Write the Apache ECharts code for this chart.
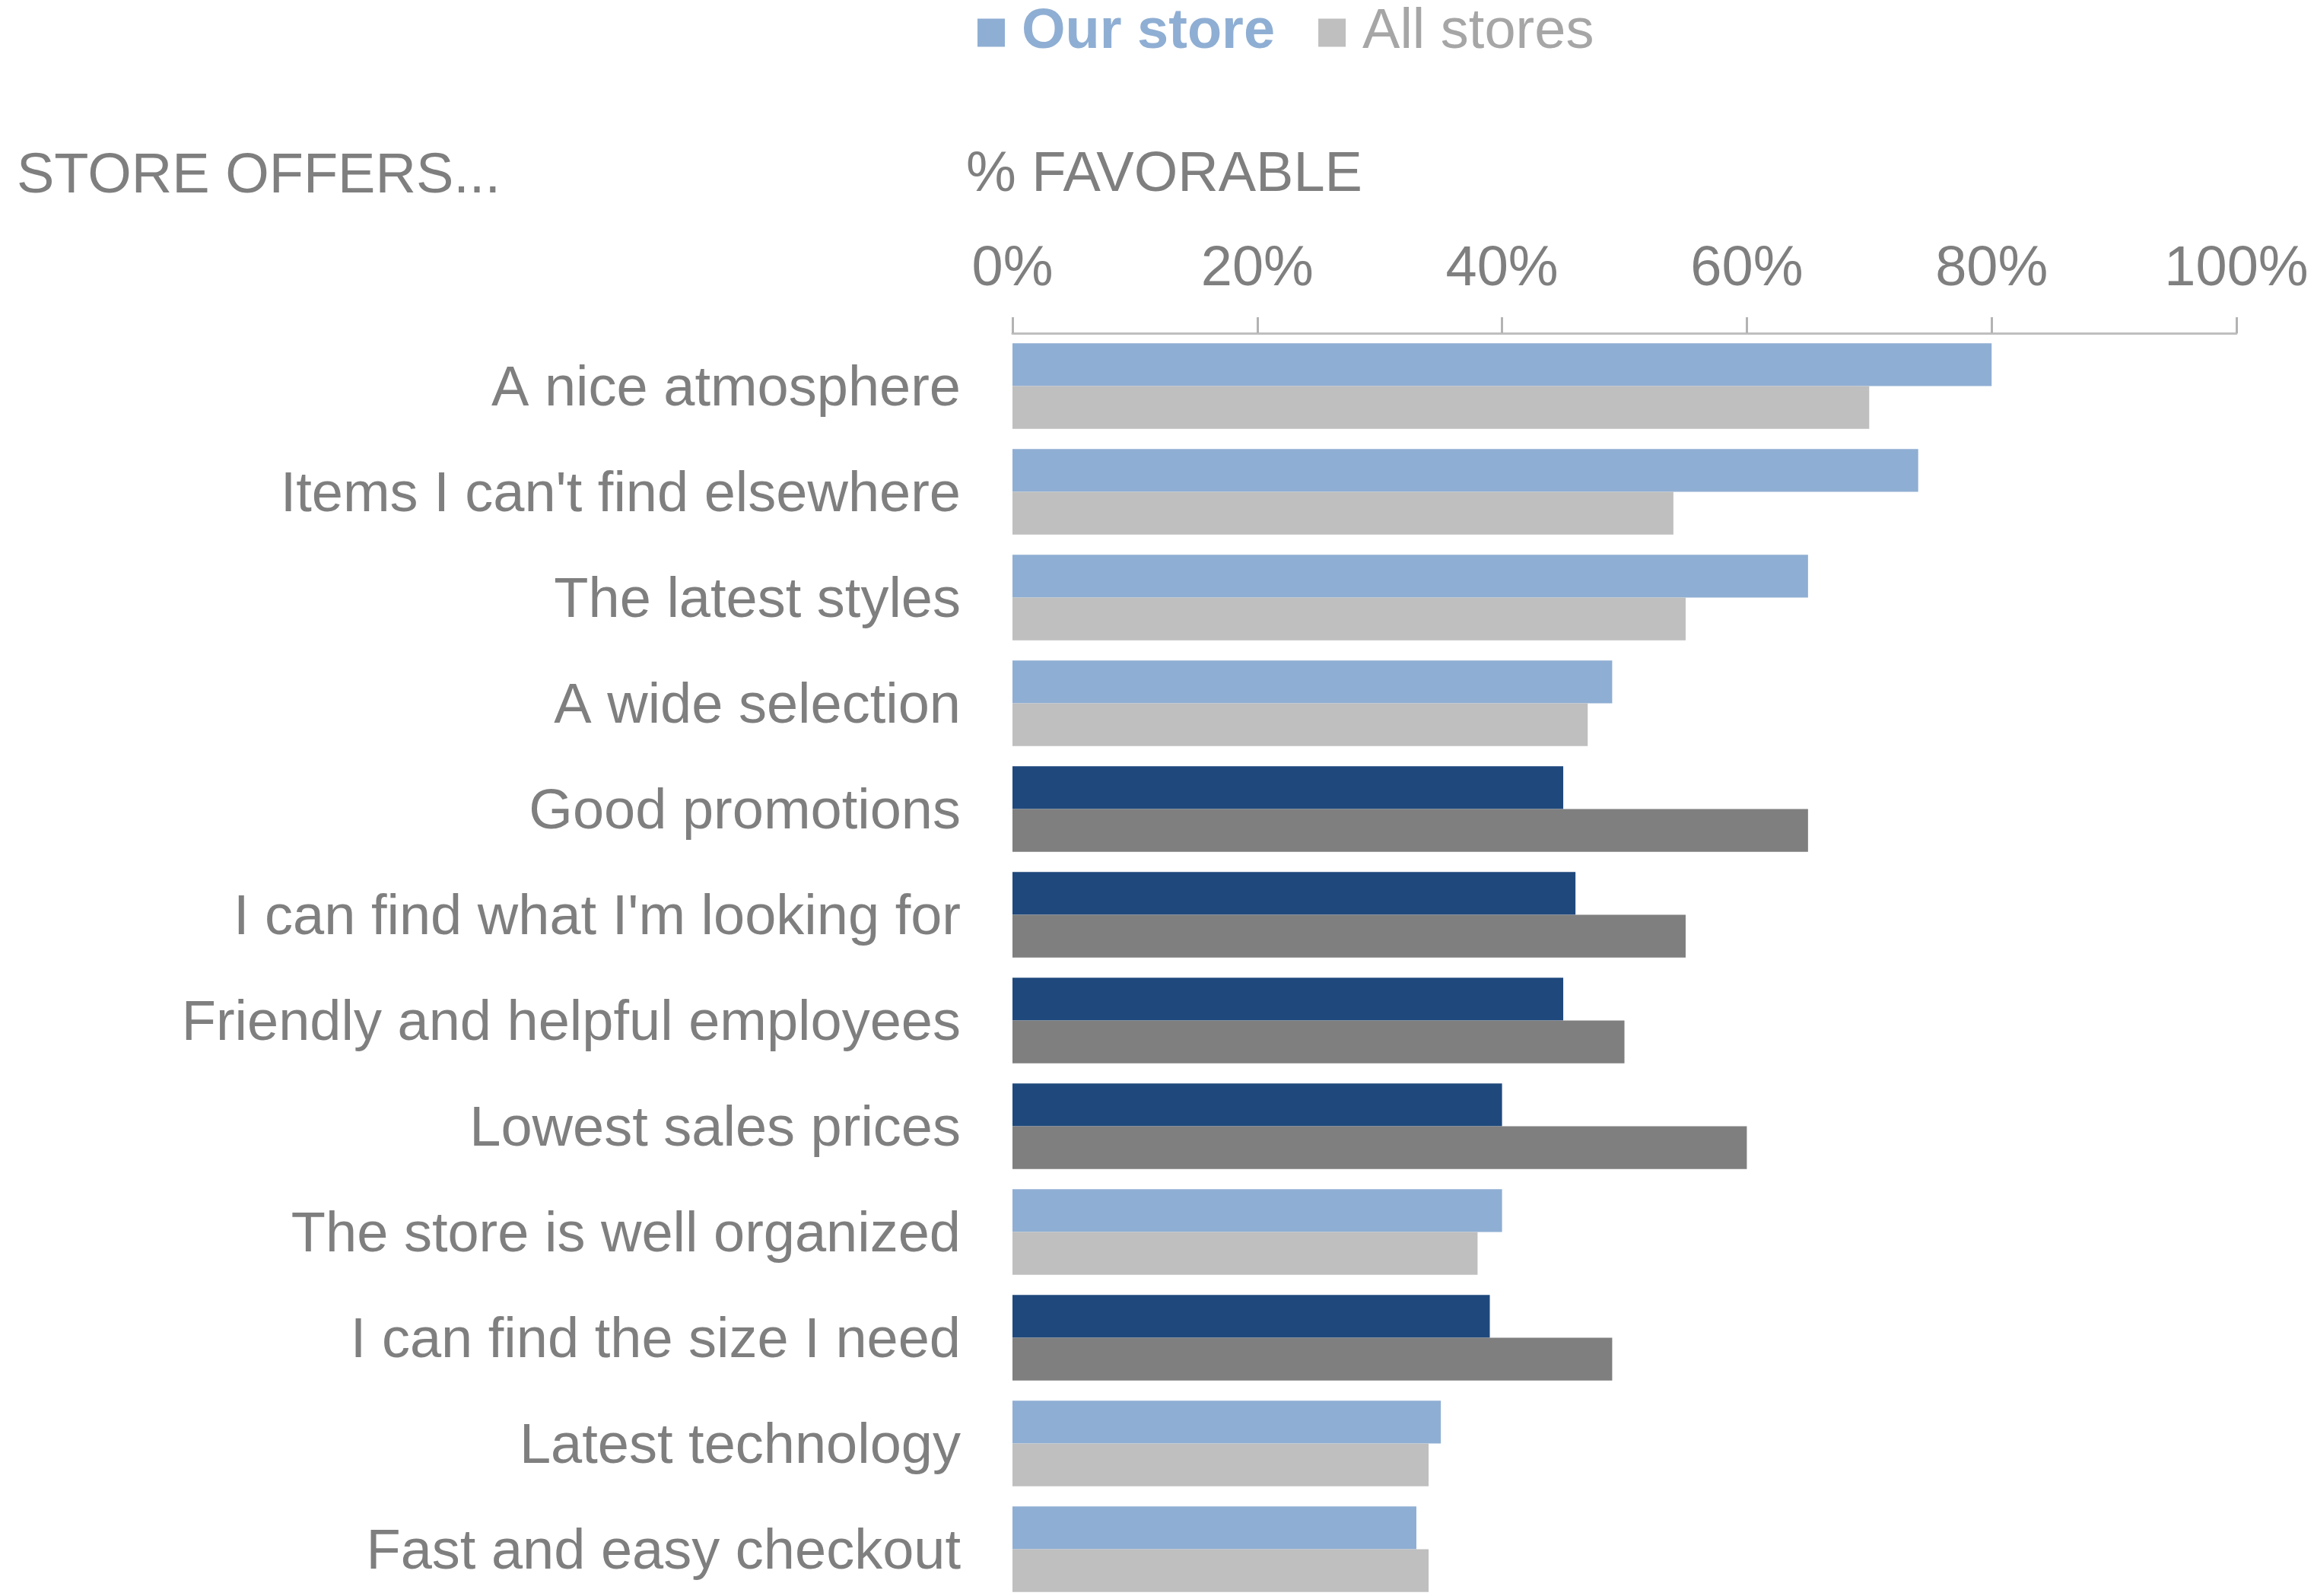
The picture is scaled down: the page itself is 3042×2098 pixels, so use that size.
<!DOCTYPE html>
<html>
<head>
<meta charset="utf-8">
<title>Store offers – % favorable</title>
<script src="https://cdn.jsdelivr.net/npm/echarts@6/dist/echarts.min.js"></script>
<style>
  html, body { margin: 0; padding: 0; background: #ffffff; }
  #chart { width: 3042px; height: 2098px; }
</style>
</head>
<body>
<div id="chart"></div>
<script>
// Survey items, top to bottom
const categories = [
  'A nice atmosphere',
  "Items I can't find elsewhere",
  'The latest styles',
  'A wide selection',
  'Good promotions',
  "I can find what I'm looking for",
  'Friendly and helpful employees',
  'Lowest sales prices',
  'The store is well organized',
  'I can find the size I need',
  'Latest technology',
  'Fast and easy checkout'
];

// % favorable
const ourStore  = [80, 74, 65, 49, 45, 46, 45, 40, 40, 39, 35, 33];
const allStores = [70, 54, 55, 47, 65, 55, 50, 60, 38, 49, 34, 34];

// Items drawn in the darker emphasis colours
const flaggedItems = [
  'Good promotions',
  "I can find what I'm looking for",
  'Friendly and helpful employees',
  'Lowest sales prices',
  'I can find the size I need'
];

const xTicks = [0, 20, 40, 60, 80, 100];

const FONT = '"Liberation Sans", Arial, Helvetica, sans-serif';
const TEXT_GREY = '#7f7f7f';
const COLORS = {
  our: '#8faed3', ourDark: '#1f497d',
  all: '#bfbfbf', allDark: '#7f7f7f'
};

function seriesData(values, baseColor, darkColor) {
  return values.map((v, i) => {
    const flagged = flaggedItems.indexOf(categories[i]) !== -1;
    return { value: v, itemStyle: { color: flagged ? darkColor : baseColor } };
  });
}

const chart = echarts.init(document.getElementById('chart'), null, { renderer: 'canvas' });

chart.setOption({
  backgroundColor: '#ffffff',
  animation: false,
  legend: {
    left: 1285,
    top: 6,
    padding: 0,
    itemGap: 57,
    itemWidth: 36,
    itemHeight: 37,
    icon: 'rect',
    data: [
      { name: 'Our store', textStyle: { color: COLORS.our, fontWeight: 'bold' } },
      { name: 'All stores', textStyle: { color: '#a6a6a6', fontWeight: 'normal' } }
    ],
    textStyle: { fontFamily: FONT, fontSize: 74, lineHeight: 74, padding: [0, 0, 0, 17] }
  },
  graphic: [
    {
      type: 'text', x: 22, y: 233,
      style: { text: 'STORE OFFERS...', font: '74px ' + FONT, fill: TEXT_GREY, verticalAlign: 'middle', align: 'left' }
    },
    {
      type: 'text', x: 1270, y: 231,
      style: { text: '% FAVORABLE', font: '74px ' + FONT, fill: TEXT_GREY, verticalAlign: 'middle', align: 'left' }
    }
  ],
  grid: {
    left: 1331, top: 438, width: 1609, height: 1668,
    containLabel: false, outerBoundsMode: 'none'
  },
  xAxis: {
    type: 'value',
    position: 'top',
    min: xTicks[0],
    max: xTicks[xTicks.length - 1],
    interval: xTicks[1] - xTicks[0],
    axisLine: { show: true, lineStyle: { color: '#bfbfbf', width: 3 } },
    axisTick: { show: true, length: 21, lineStyle: { color: '#b3b3b3', width: 3 } },
    splitLine: { show: false },
    axisLabel: {
      formatter: '{value}%',
      fontFamily: FONT, fontSize: 74, color: TEXT_GREY, margin: 46
    }
  },
  yAxis: {
    type: 'category',
    inverse: true,
    data: categories,
    axisLine: { show: false },
    axisTick: { show: false },
    axisLabel: {
      fontFamily: FONT, fontSize: 74, color: TEXT_GREY, margin: 68,
      verticalAlign: 'top', lineHeight: 10
    }
  },
  series: [
    {
      name: 'Our store', type: 'bar',
      barGap: '0%', barCategoryGap: '19%',
      itemStyle: { color: COLORS.our },
      data: seriesData(ourStore, COLORS.our, COLORS.ourDark)
    },
    {
      name: 'All stores', type: 'bar',
      barGap: '0%', barCategoryGap: '19%',
      itemStyle: { color: COLORS.all },
      data: seriesData(allStores, COLORS.all, COLORS.allDark)
    }
  ]
});
</script>
</body>
</html>
